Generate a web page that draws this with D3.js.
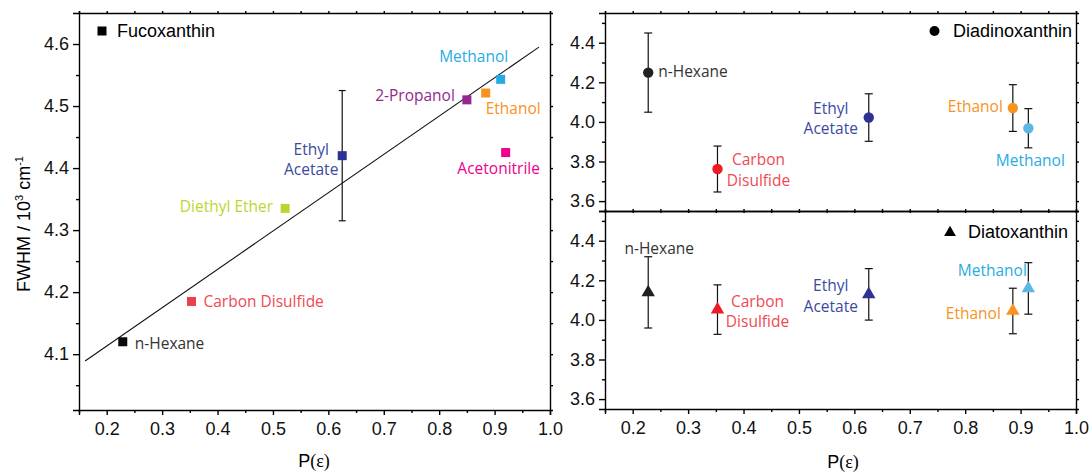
<!DOCTYPE html>
<html>
<head>
<meta charset="utf-8">
<title>FWHM vs P(ε)</title>
<style>
  body { margin: 0; background: #fff; }
  svg { display: block; }
  .axis text { font-family: "Liberation Sans", Arial, sans-serif; font-size: 18px; fill: #111; }
  .axis path, .axis line { stroke: #000; stroke-width: 1.4; }
  .lbl { font-family: "Open Sans", "Noto Sans", sans-serif; font-size: 15.5px; }
  .legend { font-family: "Liberation Sans", Arial, sans-serif; font-size: 18px; fill: #000; }
</style>
</head>
<body>
<svg id="chart" width="1090" height="472"></svg>
<script src="https://cdn.jsdelivr.net/npm/d3@7"></script>
<script>
// ---- data ----
var solvents = ["n-Hexane", "Carbon Disulfide", "Diethyl Ether", "Ethyl Acetate",
                "2-Propanol", "Ethanol", "Methanol", "Acetonitrile"];

// Fucoxanthin (left panel)
var fucoP    = [0.229, 0.353, 0.522, 0.625, 0.850, 0.884, 0.911, 0.920];
var fucoFWHM = [4.120, 4.185, 4.335, 4.420, 4.510, 4.521, 4.543, 4.425];
var fucoErr  = [0, 0, 0, 0.105, 0, 0, 0, 0];
var fitP     = [0.161, 0.980];
var fitFWHM  = [4.089, 4.595];

// Diadinoxanthin / Diatoxanthin (right panels)
var xanSolvents = ["n-Hexane", "Carbon Disulfide", "Ethyl Acetate", "Ethanol", "Methanol"];
var xanP        = [0.228, 0.353, 0.626, 0.886, 0.914];
var ddxFWHM     = [4.249, 3.762, 4.022, 4.070, 3.968];
var ddxErr      = [0.200, 0.116, 0.120, 0.118, 0.099];
var dtxFWHM     = [4.139, 4.052, 4.129, 4.045, 4.159];
var dtxErr      = [0.180, 0.125, 0.130, 0.115, 0.130];

var xTicks      = [0.2, 0.3, 0.4, 0.5, 0.6, 0.7, 0.8, 0.9, 1.0];
var xMinor      = [0.15, 0.25, 0.35, 0.45, 0.55, 0.65, 0.75, 0.85, 0.95];
var fucoTicks   = [4.1, 4.2, 4.3, 4.4, 4.5, 4.6];
var fucoMinor   = [4.05, 4.15, 4.25, 4.35, 4.45, 4.55];
var xanTicks    = [3.6, 3.8, 4.0, 4.2, 4.4];
var xanMinor    = [3.7, 3.9, 4.1, 4.3, 4.5];

// ---- styles and label placement (pixels) ----
var markColor = {
  "n-Hexane": "#0b0b0b", "Carbon Disulfide": "#e8414a", "Diethyl Ether": "#bdd333",
  "Ethyl Acetate": "#2e3192", "2-Propanol": "#92278f", "Ethanol": "#f7931e",
  "Methanol": "#27aae1", "Acetonitrile": "#ec008c"
};
var textColor = {
  "n-Hexane": "#333333", "Carbon Disulfide": "#ef4a52", "Diethyl Ether": "#bdd62f",
  "Ethyl Acetate": "#3b4a9e", "2-Propanol": "#92278f", "Ethanol": "#f7931e",
  "Methanol": "#29abe2", "Acetonitrile": "#ec008c"
};
var rightColor = {
  "n-Hexane": "#231f20", "Carbon Disulfide": "#ed1c24", "Ethyl Acetate": "#2e3192",
  "Ethanol": "#f7931e", "Methanol": "#5bb8e2"
};

// [dx, dy, anchor, lines]
var fucoLabels = {
  "n-Hexane":         [12, 7, "start", ["n-Hexane"]],
  "Carbon Disulfide": [12, 6, "start", ["Carbon Disulfide"]],
  "Diethyl Ether":    [-12, 4, "end", ["Diethyl Ether"]],
  "Ethyl Acetate":    [-31, -1, "middle", ["Ethyl", "Acetate"]],
  "2-Propanol":       [-12, 1, "end", ["2-Propanol"]],
  "Ethanol":          [0, 21, "start", ["Ethanol"]],
  "Methanol":         [-27, -17, "middle", ["Methanol"]],
  "Acetonitrile":     [-7, 21, "middle", ["Acetonitrile"]]
};
var ddxLabels = {
  "n-Hexane":         [10, 4, "start", ["n-Hexane"]],
  "Carbon Disulfide": [41, -4, "middle", ["Carbon", "Disulfide"]],
  "Ethyl Acetate":    [-38, -4, "middle", ["Ethyl", "Acetate"]],
  "Ethanol":          [-10, 4, "end", ["Ethanol"]],
  "Methanol":         [2, 38, "middle", ["Methanol"]]
};
var dtxLabels = {
  "n-Hexane":         [11, -38, "middle", ["n-Hexane"]],
  "Carbon Disulfide": [40, -3, "middle", ["Carbon", "Disulfide"]],
  "Ethyl Acetate":    [-38, -3, "middle", ["Ethyl", "Acetate"]],
  "Ethanol":          [-12, 8, "end", ["Ethanol"]],
  "Methanol":         [-36, -12, "middle", ["Methanol"]]
};

var svg = d3.select("#chart");

// frames
var L = {x0: 79, x1: 550, y0: 13, y1: 410};
var RT = {x0: 605, x1: 1076, y0: 13, y1: 211};
var RB = {x0: 605, x1: 1076, y0: 211, y1: 409};

function makeAxes(box, x, y, majors, minors, showX) {
  var g = svg.append("g").attr("class", "axis");
  // bottom
  var b = g.append("g").attr("transform", "translate(0," + box.y1 + ")");
  if (showX) {
    b.call(d3.axisBottom(x).tickValues(xTicks).tickSize(5).tickPadding(7)
      .tickFormat(d3.format(".1f")));
  } else {
    b.call(d3.axisBottom(x).tickValues(xTicks).tickSize(2).tickFormat(""));
  }
  b.append("g").call(d3.axisBottom(x).tickValues(xMinor).tickSize(showX ? 3 : 2).tickFormat(""))
    .select(".domain").remove();
  // top
  var t = g.append("g").attr("transform", "translate(0," + box.y0 + ")");
  t.call(d3.axisTop(x).tickValues(xTicks.concat(xMinor)).tickSize(2).tickFormat(""));
  // left
  var l = g.append("g").attr("transform", "translate(" + box.x0 + ",0)");
  l.call(d3.axisLeft(y).tickValues(majors).tickSize(6).tickPadding(4).tickFormat(d3.format(".1f")));
  l.append("g").call(d3.axisLeft(y).tickValues(minors).tickSize(3).tickFormat(""))
    .select(".domain").remove();
  // right
  var r = g.append("g").attr("transform", "translate(" + box.x1 + ",0)");
  r.call(d3.axisRight(y).tickValues(majors.concat(minors)).tickSize(3).tickFormat(""));
  g.selectAll(".domain").attr("stroke-width", 1.6);
  return g;
}

function drawLabels(g, names, xs, ys, x, y, place, colors) {
  names.forEach(function (n, i) {
    var p = place[n];
    var t = g.append("text").attr("class", "lbl")
      .attr("text-anchor", p[2]).attr("fill", colors[n])
      .attr("x", x(xs[i]) + p[0]).attr("y", y(ys[i]) + p[1]);
    p[3].forEach(function (line, k) {
      t.append("tspan").attr("x", x(xs[i]) + p[0]).attr("dy", k === 0 ? 0 : 20.5).text(line);
    });
  });
}

function errBars(g, xs, ys, es, x, y, cap) {
  xs.forEach(function (v, i) {
    if (!es[i]) return;
    var cx = x(v), ya = y(ys[i] + es[i]), yb = y(ys[i] - es[i]);
    g.append("line").attr("x1", cx).attr("x2", cx).attr("y1", ya).attr("y2", yb);
    g.append("line").attr("x1", cx - cap).attr("x2", cx + cap).attr("y1", ya).attr("y2", ya);
    g.append("line").attr("x1", cx - cap).attr("x2", cx + cap).attr("y1", yb).attr("y2", yb);
  });
  g.selectAll("line").attr("stroke", "#111").attr("stroke-width", 1.2);
}

// ---- left panel: Fucoxanthin ----
var xL = d3.scaleLinear().domain([0.15, 1.0]).range([L.x0, L.x1]);
var yL = d3.scaleLinear().domain([4.01, 4.65]).range([L.y1, L.y0]);
makeAxes(L, xL, yL, fucoTicks, fucoMinor, true);

svg.append("line")
  .attr("x1", xL(fitP[0])).attr("y1", yL(fitFWHM[0]))
  .attr("x2", xL(fitP[1])).attr("y2", yL(fitFWHM[1]))
  .attr("stroke", "#111").attr("stroke-width", 1.1);

errBars(svg.append("g"), fucoP, fucoFWHM, fucoErr, xL, yL, 3.5);

svg.append("g").selectAll("rect").data(solvents).join("rect")
  .attr("x", function (d, i) { return xL(fucoP[i]) - 4.5; })
  .attr("y", function (d, i) { return yL(fucoFWHM[i]) - 4.5; })
  .attr("width", 9).attr("height", 9)
  .attr("fill", function (d) { return markColor[d]; });

drawLabels(svg.append("g"), solvents, fucoP, fucoFWHM, xL, yL, fucoLabels, textColor);

svg.append("rect").attr("x", 97.5).attr("y", 26.5).attr("width", 9).attr("height", 9).attr("fill", "#000");
svg.append("text").attr("class", "legend").attr("x", 117).attr("y", 37).text("Fucoxanthin");

// ---- right panels ----
var xR = d3.scaleLinear().domain([0.15, 1.0]).range([RT.x0, RT.x1]);
var yRT = d3.scaleLinear().domain([3.55, 4.55]).range([RT.y1, RT.y0]);
var yRB = d3.scaleLinear().domain([3.55, 4.55]).range([RB.y1, RB.y0]);
makeAxes(RT, xR, yRT, xanTicks, xanMinor, false);
makeAxes(RB, xR, yRB, xanTicks, xanMinor, true);

errBars(svg.append("g"), xanP, ddxFWHM, ddxErr, xR, yRT, 4);
errBars(svg.append("g"), xanP, dtxFWHM, dtxErr, xR, yRB, 4);

svg.append("g").selectAll("circle").data(xanSolvents).join("circle")
  .attr("cx", function (d, i) { return xR(xanP[i]); })
  .attr("cy", function (d, i) { return yRT(ddxFWHM[i]); })
  .attr("r", 5.2)
  .attr("fill", function (d) { return rightColor[d]; });

var tri = d3.symbol().type(d3.symbolTriangle).size(78);
svg.append("g").selectAll("path").data(xanSolvents).join("path")
  .attr("d", tri)
  .attr("transform", function (d, i) {
    return "translate(" + xR(xanP[i]) + "," + yRB(dtxFWHM[i]) + ")";
  })
  .attr("fill", function (d) { return rightColor[d]; });

drawLabels(svg.append("g"), xanSolvents, xanP, ddxFWHM, xR, yRT, ddxLabels, textColor);
drawLabels(svg.append("g"), xanSolvents, xanP, dtxFWHM, xR, yRB, dtxLabels, textColor);

svg.append("circle").attr("cx", 934.5).attr("cy", 31).attr("r", 5).attr("fill", "#000");
svg.append("text").attr("class", "legend").attr("x", 953).attr("y", 37).text("Diadinoxanthin");
svg.append("path").attr("d", d3.symbol().type(d3.symbolTriangle).size(60))
  .attr("transform", "translate(950,232.5)").attr("fill", "#000");
svg.append("text").attr("class", "legend").attr("x", 968).attr("y", 238).text("Diatoxanthin");

// ---- axis titles ----
function pEps(cx, y) {
  var t = svg.append("text").attr("class", "legend").attr("text-anchor", "middle")
    .attr("x", cx).attr("y", y);
  t.append("tspan").text("P");
  t.append("tspan").attr("font-family", "'Liberation Serif', serif").text("(ε)");
}
pEps(314, 467);
pEps(843, 468);

var yt = svg.append("text").attr("class", "legend").attr("text-anchor", "middle")
  .attr("font-size", 17)
  .attr("transform", "translate(30,224) rotate(-90)");
yt.append("tspan").text("FWHM / 10");
yt.append("tspan").attr("font-size", 11).attr("dy", -7).text("3");
yt.append("tspan").attr("dy", 7).text(" cm");
yt.append("tspan").attr("font-size", 11).attr("dy", -7).text("-1");
</script>
</body>
</html>
